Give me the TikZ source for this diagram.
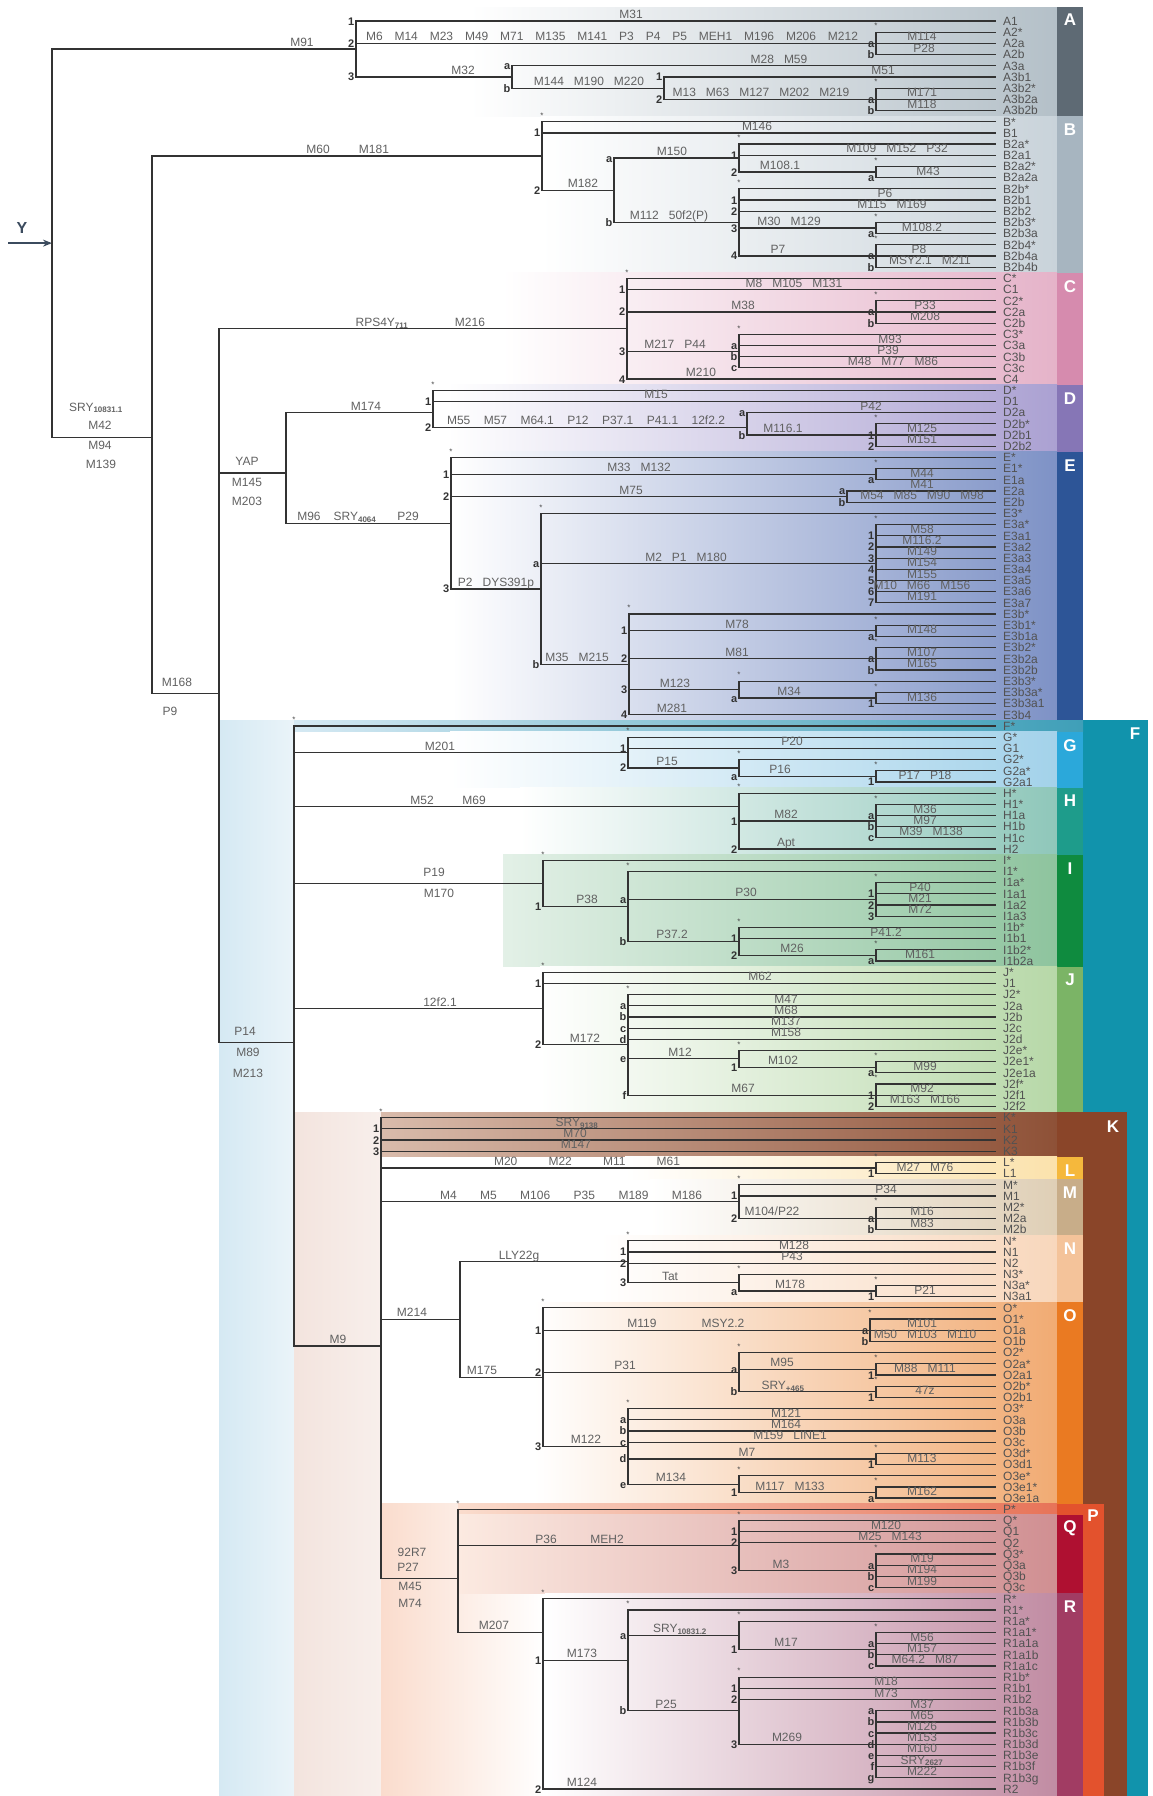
\documentclass[tikz,border=0pt]{standalone}
\usepackage{fontspec}
\setmainfont{Liberation Sans}[WordSpace=3]
\usetikzlibrary{arrows.meta}

\definecolor{acol}{HTML}{5E6A74}\definecolor{aband}{HTML}{B4C0C8}
\definecolor{bcol}{HTML}{A7B5C0}\definecolor{bband}{HTML}{C9D3DA}
\definecolor{ccol}{HTML}{D68BAE}\definecolor{cband}{HTML}{E5B3C9}
\definecolor{dcol}{HTML}{8676B6}\definecolor{dband}{HTML}{ABA1D2}
\definecolor{ecol}{HTML}{2D5597}\definecolor{eband}{HTML}{7E92C6}
\definecolor{fcol}{HTML}{1193AC}\definecolor{fband}{HTML}{3F9FB8}
\definecolor{gcol}{HTML}{2BA8DA}\definecolor{gband}{HTML}{A3D2EA}
\definecolor{hcol}{HTML}{1E9C8B}\definecolor{hband}{HTML}{8FC7BA}
\definecolor{icol}{HTML}{0F8B3F}\definecolor{iband}{HTML}{8EC49E}
\definecolor{jcol}{HTML}{7BB466}\definecolor{jband}{HTML}{B7D8A8}
\definecolor{kcol}{HTML}{8A4529}\definecolor{kband}{HTML}{8E5137}\definecolor{kleft}{HTML}{D9BBAB}
\definecolor{lcol}{HTML}{F5B83C}\definecolor{lband}{HTML}{FBE2AC}
\definecolor{mcol}{HTML}{C8AD89}\definecolor{mband}{HTML}{DFCFB6}
\definecolor{ncol}{HTML}{F4C39A}\definecolor{nband}{HTML}{F8D7BC}
\definecolor{ocol}{HTML}{EA7A22}\definecolor{oband}{HTML}{F1AB73}
\definecolor{pcol}{HTML}{E3522D}\definecolor{pband}{HTML}{E77358}
\definecolor{qcol}{HTML}{AF1031}\definecolor{qband}{HTML}{D08F92}
\definecolor{rcol}{HTML}{A13C63}\definecolor{rband}{HTML}{C18CA3}
\definecolor{fstrip}{HTML}{D5E9F3}\definecolor{kstrip}{HTML}{F3E4DE}
\definecolor{pstrip}{HTML}{FADCCD}\definecolor{arrowcol}{HTML}{3B4B5E}

\newcounter{lab}
\newcommand\ry[1]{21+11.19*(#1)}
\newcommand\mutfont{\fontsize{12}{13}\selectfont}
\newcommand\leaffont{\fontsize{12}{13}\selectfont}
\newcommand\tagfont{\fontsize{11}{12}\selectfont\bfseries}
\newcommand\grpfont{\fontsize{17}{17}\selectfont\bfseries}
% leaf: end of a branch and its haplogroup name
\newcommand\leaf[3]{\coordinate (#1) at (996,{\ry{#2}});
  \node[leaf] (t#1) at (1003,{\ry{#2}}) {#3};}
\newcommand\fork[3]{\coordinate (#1) at (#2,{\ry{#3}});}
\newcommand\mut[3]{\stepcounter{lab}\node[mut] (mut\arabic{lab}) at (#1,{\ry{#2}}) {#3};}
\newcommand\mutc[4]{\stepcounter{lab}\node[mut,anchor=center,yshift=0pt] (mut\arabic{lab}) at (#1,{\ry{#2}+(#3)}) {#4};}
\newcommand\spread[4]{\stepcounter{lab}\node[mut] (mut\arabic{lab}) at (#1,{\ry{#2}}) {\makebox[#3pt][s]{#4}};}
\newcommand\tg[3]{\stepcounter{lab}\node[tag] (tag\arabic{lab}) at (#1,{\ry{#2}}) {#3};}
\newcommand\stx[2]{\stepcounter{lab}\node[starmark] (tag\arabic{lab}) at (#1,{\ry{#2}-6}) {*};}
\newcommand\band[4]{\shade[left color=white,right color=#1] (#2,{\ry{#3}-5.6}) rectangle (1057,{\ry{#4}+5.6});}
\newcommand\grpcol[4]{\fill[#1] (1057,{\ry{#2}-5.6}) rectangle (1083,{\ry{#3}+5.6});
  \node[grp] (g#4) at (1070,{\ry{#2}+8}) {#4};}

\begin{document}
\begin{tikzpicture}[
    x=1pt, y=-1pt,
    br/.style={draw=black!80, line width=1.2pt},
    mut/.style={anchor=base, yshift=2.5pt, inner sep=0pt, font=\mutfont, text=black!62},
    tag/.style={anchor=base east, xshift=-1.5pt, yshift=-4pt, inner sep=0pt, font=\tagfont, text=black!80},
    starmark/.style={inner sep=0pt, font=\fontsize{8}{8}\selectfont, text=black!70},
    leaf/.style={anchor=base west, yshift=-4.3pt, inner sep=0pt, font=\leaffont, text=black!68},
    grp/.style={inner sep=0pt, font=\grpfont, text=white}
]
\useasboundingbox (0,0) rectangle (1152,1796);
\fill[white] (0,0) rectangle (1152,1796);

% backgrounds
\shade[left color=fstrip,right color=fstrip!50] (219,{\ry{63}-5.6}) rectangle (294,1796);
\shade[left color=kstrip,right color=kstrip!60] (294,{\ry{98}-5.6}) rectangle (381,1796);
\shade[left color=pstrip,right color=white] (381,{\ry{133}-5.6}) rectangle (545,1796);
\shade[left color=white,right color=aband] (470,7) rectangle (1057,{\ry{8}+5.6});
\fill[acol] (1057,7) rectangle (1083,{\ry{8}+5.6});
\node[grp] (gA) at (1070,20) {A};
\band{bband}{541}{9}{22}\grpcol{bcol}{9}{22}{B}
\band{cband}{502}{23}{32}\grpcol{ccol}{23}{32}{C}
\band{dband}{447}{33}{38}\grpcol{dcol}{33}{38}{D}
\band{eband}{452}{39}{62}\grpcol{ecol}{39}{62}{E}
\fill[fcol] (1083,{\ry{63}-5.6}) rectangle (1148,1796);
\shade[left color=fstrip,right color=fband] (294,{\ry{63}-5.6}) rectangle (1083,{\ry{63}+5.6});
\node[grp] (gF) at (1135,{\ry{63}+8}) {F};
\band{gband}{450}{64}{68}\grpcol{gcol}{64}{68}{G}
\band{hband}{520}{69}{74}\grpcol{hcol}{69}{74}{H}
\shade[left color=iband!25,right color=iband] (503,{\ry{75}-5.6}) rectangle (1057,{\ry{84}+5.6});
\grpcol{icol}{75}{84}{I}
\band{jband}{540}{85}{97}\grpcol{jcol}{85}{97}{J}
\shade[left color=kleft,right color=kband] (381,{\ry{98}-5.6}) rectangle (1057,{\ry{101}+5.6});
\fill[kcol] (1057,{\ry{98}-5.6}) rectangle (1127,{\ry{101}+5.6});
\fill[kcol] (1083,{\ry{101}}) rectangle (1127,1796);
\node[grp] (gK) at (1113,{\ry{98}+9}) {K};
\band{lband}{625}{102}{103}\grpcol{lcol}{102}{103}{L}
\band{mband}{650}{104}{108}\grpcol{mcol}{104}{108}{M}
\band{nband}{600}{109}{114}\grpcol{ncol}{109}{114}{N}
\band{oband}{534}{115}{132}\grpcol{ocol}{115}{132}{O}
\shade[left color=pstrip,right color=pband] (458,{\ry{133}-5.6}) rectangle (1057,{\ry{133}+5.6});
\fill[pcol] (1057,{\ry{133}-5.6}) rectangle (1104,{\ry{133}+5.6});
\fill[pcol] (1083,{\ry{133}}) rectangle (1104,1796);
\node[grp] (gP) at (1093,{\ry{133}+6}) {P};
\shade[left color=pstrip!60,right color=qband] (458,{\ry{134}-5.6}) rectangle (1057,{\ry{140}+5.6});
\grpcol{qcol}{134}{140}{Q}
\shade[left color=white,right color=rband] (545,{\ry{141}-5.6}) rectangle (1057,1796);
\fill[rcol] (1057,{\ry{141}-5.6}) rectangle (1083,1796);
\node[grp] (gR) at (1070,{\ry{141}+8}) {R};

% leaves
\leaf{A1}{0}{A1}\leaf{A2s}{1}{A2*}\leaf{A2a}{2}{A2a}\leaf{A2b}{3}{A2b}
\leaf{A3a}{4}{A3a}\leaf{A3b1}{5}{A3b1}\leaf{A3b2s}{6}{A3b2*}\leaf{A3b2a}{7}{A3b2a}\leaf{A3b2b}{8}{A3b2b}
\leaf{Bs}{9}{B*}\leaf{B1}{10}{B1}\leaf{B2as}{11}{B2a*}\leaf{B2a1}{12}{B2a1}
\leaf{B2a2s}{13}{B2a2*}\leaf{B2a2a}{14}{B2a2a}\leaf{B2bs}{15}{B2b*}\leaf{B2b1}{16}{B2b1}
\leaf{B2b2}{17}{B2b2}\leaf{B2b3s}{18}{B2b3*}\leaf{B2b3a}{19}{B2b3a}\leaf{B2b4s}{20}{B2b4*}
\leaf{B2b4a}{21}{B2b4a}\leaf{B2b4b}{22}{B2b4b}
\leaf{Cs}{23}{C*}\leaf{C1}{24}{C1}\leaf{C2s}{25}{C2*}\leaf{C2a}{26}{C2a}\leaf{C2b}{27}{C2b}
\leaf{C3s}{28}{C3*}\leaf{C3a}{29}{C3a}\leaf{C3b}{30}{C3b}\leaf{C3c}{31}{C3c}\leaf{C4}{32}{C4}
\leaf{Ds}{33}{D*}\leaf{D1}{34}{D1}\leaf{D2a}{35}{D2a}\leaf{D2bs}{36}{D2b*}\leaf{D2b1}{37}{D2b1}\leaf{D2b2}{38}{D2b2}
\leaf{Es}{39}{E*}\leaf{E1s}{40}{E1*}\leaf{E1a}{41}{E1a}\leaf{E2a}{42}{E2a}\leaf{E2b}{43}{E2b}
\leaf{E3s}{44}{E3*}\leaf{E3as}{45}{E3a*}\leaf{E3a1}{46}{E3a1}\leaf{E3a2}{47}{E3a2}\leaf{E3a3}{48}{E3a3}
\leaf{E3a4}{49}{E3a4}\leaf{E3a5}{50}{E3a5}\leaf{E3a6}{51}{E3a6}\leaf{E3a7}{52}{E3a7}
\leaf{E3bs}{53}{E3b*}\leaf{E3b1s}{54}{E3b1*}\leaf{E3b1a}{55}{E3b1a}\leaf{E3b2s}{56}{E3b2*}
\leaf{E3b2a}{57}{E3b2a}\leaf{E3b2b}{58}{E3b2b}\leaf{E3b3s}{59}{E3b3*}\leaf{E3b3as}{60}{E3b3a*}
\leaf{E3b3a1}{61}{E3b3a1}\leaf{E3b4}{62}{E3b4}
\leaf{Fs}{63}{F*}\leaf{Gs}{64}{G*}\leaf{G1}{65}{G1}\leaf{G2s}{66}{G2*}\leaf{G2as}{67}{G2a*}\leaf{G2a1}{68}{G2a1}
\leaf{Hs}{69}{H*}\leaf{H1s}{70}{H1*}\leaf{H1a}{71}{H1a}\leaf{H1b}{72}{H1b}\leaf{H1c}{73}{H1c}\leaf{H2}{74}{H2}
\leaf{Is}{75}{I*}\leaf{I1s}{76}{I1*}\leaf{I1as}{77}{I1a*}\leaf{I1a1}{78}{I1a1}\leaf{I1a2}{79}{I1a2}
\leaf{I1a3}{80}{I1a3}\leaf{I1bs}{81}{I1b*}\leaf{I1b1}{82}{I1b1}\leaf{I1b2s}{83}{I1b2*}\leaf{I1b2a}{84}{I1b2a}
\leaf{Js}{85}{J*}\leaf{J1}{86}{J1}\leaf{J2s}{87}{J2*}\leaf{J2a}{88}{J2a}\leaf{J2b}{89}{J2b}\leaf{J2c}{90}{J2c}
\leaf{J2d}{91}{J2d}\leaf{J2es}{92}{J2e*}\leaf{J2e1s}{93}{J2e1*}\leaf{J2e1a}{94}{J2e1a}
\leaf{J2fs}{95}{J2f*}\leaf{J2f1}{96}{J2f1}\leaf{J2f2}{97}{J2f2}
\leaf{Ks}{98}{K*}\leaf{K1}{99}{K1}\leaf{K2}{100}{K2}\leaf{K3}{101}{K3}
\leaf{Ls}{102}{L*}\leaf{L1}{103}{L1}
\leaf{Ms}{104}{M*}\leaf{M1}{105}{M1}\leaf{M2s}{106}{M2*}\leaf{M2a}{107}{M2a}\leaf{M2b}{108}{M2b}
\leaf{Ns}{109}{N*}\leaf{N1}{110}{N1}\leaf{N2}{111}{N2}\leaf{N3s}{112}{N3*}\leaf{N3as}{113}{N3a*}\leaf{N3a1}{114}{N3a1}
\leaf{Os}{115}{O*}\leaf{O1s}{116}{O1*}\leaf{O1a}{117}{O1a}\leaf{O1b}{118}{O1b}\leaf{O2s}{119}{O2*}
\leaf{O2as}{120}{O2a*}\leaf{O2a1}{121}{O2a1}\leaf{O2bs}{122}{O2b*}\leaf{O2b1}{123}{O2b1}
\leaf{O3s}{124}{O3*}\leaf{O3a}{125}{O3a}\leaf{O3b}{126}{O3b}\leaf{O3c}{127}{O3c}\leaf{O3ds}{128}{O3d*}
\leaf{O3d1}{129}{O3d1}\leaf{O3es}{130}{O3e*}\leaf{O3e1s}{131}{O3e1*}\leaf{O3e1a}{132}{O3e1a}
\leaf{Ps}{133}{P*}\leaf{Qs}{134}{Q*}\leaf{Q1}{135}{Q1}\leaf{Q2}{136}{Q2}\leaf{Q3s}{137}{Q3*}
\leaf{Q3a}{138}{Q3a}\leaf{Q3b}{139}{Q3b}\leaf{Q3c}{140}{Q3c}
\leaf{Rs}{141}{R*}\leaf{R1s}{142}{R1*}\leaf{R1as}{143}{R1a*}\leaf{R1a1s}{144}{R1a1*}\leaf{R1a1a}{145}{R1a1a}
\leaf{R1a1b}{146}{R1a1b}\leaf{R1a1c}{147}{R1a1c}\leaf{R1bs}{148}{R1b*}\leaf{R1b1}{149}{R1b1}\leaf{R1b2}{150}{R1b2}
\leaf{R1b3a}{151}{R1b3a}\leaf{R1b3b}{152}{R1b3b}\leaf{R1b3c}{153}{R1b3c}\leaf{R1b3d}{154}{R1b3d}
\leaf{R1b3e}{155}{R1b3e}\leaf{R1b3f}{156}{R1b3f}\leaf{R1b3g}{157}{R1b3g}\leaf{R2}{158}{R2}

% forks
\fork{nY}{52}{19.85}
\fork{nA}{356}{2.5}\fork{nA2}{876}{2}\fork{nA3}{512}{5}\fork{nA3b}{664}{6}\fork{nA3b2}{876}{7}
\fork{nBT}{152}{37.2}
\fork{nB}{542}{12.0625}\fork{nB2}{614}{15.125}\fork{nB2a}{739}{12.25}\fork{nB2a2}{876}{13.5}
\fork{nB2b}{739}{18}\fork{nB2b3}{876}{18.5}\fork{nB2b4}{876}{21}
\fork{nCT}{219}{60.1}
\fork{nC}{627}{27.5}\fork{nC2}{876}{26}\fork{nC3}{739}{29.5}
\fork{nDE}{286}{40.4}
\fork{nD}{433}{35}\fork{nD2}{747}{36.3}\fork{nD2b}{876}{37}
\fork{nE}{451}{44.875}\fork{nE1}{876}{40.5}\fork{nE2}{847}{42.5}\fork{nE3}{541}{50.75}
\fork{nE3a}{876}{48.5}\fork{nE3b}{629}{57.5}\fork{nE3b1}{876}{54.5}\fork{nE3b2}{876}{57}
\fork{nE3b3}{739}{59.75}\fork{nE3b3a}{876}{60.5}
\fork{nF}{294}{91.3}
\fork{nG}{628}{65.375}\fork{nG2}{739}{66.75}\fork{nG2a}{876}{67.5}
\fork{nH}{739}{70.2}\fork{nH1}{876}{71.5}
\fork{nI}{543}{77.06}\fork{nI1}{628}{79.125}\fork{nI1a}{876}{78.5}\fork{nI1b}{739}{82.25}\fork{nI1b2}{876}{83.5}
\fork{nJ}{543}{88.25}\fork{nJ2}{628}{91.5}\fork{nJ2e}{739}{92.75}\fork{nJ2e1}{876}{93.5}\fork{nJ2f}{876}{96}
\fork{nK}{381}{118.4}\fork{nL}{876}{102.5}\fork{nM}{739}{105.5}\fork{nM2}{876}{107}
\fork{nNO}{460}{116.03}
\fork{nN}{628}{110.875}\fork{nN3}{739}{112.75}\fork{nN3a}{876}{113.5}
\fork{nO}{543}{121.19}\fork{nO1}{870}{117}\fork{nO2}{739}{120.75}\fork{nO2a}{876}{120.5}\fork{nO2b}{876}{122.5}
\fork{nO3}{628}{127.375}\fork{nO3d}{876}{128.5}\fork{nO3e}{739}{130.75}\fork{nO3e1}{876}{131.5}
\fork{nP}{458}{139.2}\fork{nQ}{739}{136.25}\fork{nQ3}{876}{138.5}
\fork{nR}{543}{144}\fork{nR1}{628}{146.5}\fork{nR1a}{739}{144.25}\fork{nR1a1}{876}{145.5}
\fork{nR1b}{739}{151}\fork{nR1b3}{876}{154}

% root arrow
\coordinate (ystart) at (8,{\ry{19.85}});
\draw[-{Stealth[length=9pt,width=7pt]}, line width=1.4pt, arrowcol] (ystart) -- (nY);
\node[font=\fontsize{16}{16}\selectfont\bfseries, text=arrowcol] (ylab) at (22,{\ry{19.85}-15}) {Y};

% branches
\draw[br] (nY) |- (nA) (nY) |- (nBT);
\draw[br] (nA) |- (A1) (nA) |- (nA2) (nA) |- (nA3);
\draw[br] (nA2) |- (A2s) (nA2) |- (A2a) (nA2) |- (A2b);
\draw[br] (nA3) |- (A3a) (nA3) |- (nA3b);
\draw[br] (nA3b) |- (A3b1) (nA3b) |- (nA3b2);
\draw[br] (nA3b2) |- (A3b2s) (nA3b2) |- (A3b2a) (nA3b2) |- (A3b2b);
\draw[br] (nBT) |- (nB) (nBT) |- (nCT);
\draw[br] (nB) |- (Bs) (nB) |- (B1) (nB) |- (nB2);
\draw[br] (nB2) |- (nB2a) (nB2) |- (nB2b);
\draw[br] (nB2a) |- (B2as) (nB2a) |- (B2a1) (nB2a) |- (nB2a2);
\draw[br] (nB2a2) |- (B2a2s) (nB2a2) |- (B2a2a);
\draw[br] (nB2b) |- (B2bs) (nB2b) |- (B2b1) (nB2b) |- (B2b2) (nB2b) |- (nB2b3) (nB2b) |- (nB2b4);
\draw[br] (nB2b3) |- (B2b3s) (nB2b3) |- (B2b3a);
\draw[br] (nB2b4) |- (B2b4s) (nB2b4) |- (B2b4a) (nB2b4) |- (B2b4b);
\draw[br] (nCT) |- (nC) (nCT) |- (nDE) (nCT) |- (nF);
\draw[br] (nC) |- (Cs) (nC) |- (C1) (nC) |- (nC2) (nC) |- (nC3) (nC) |- (C4);
\draw[br] (nC2) |- (C2s) (nC2) |- (C2a) (nC2) |- (C2b);
\draw[br] (nC3) |- (C3s) (nC3) |- (C3a) (nC3) |- (C3b) (nC3) |- (C3c);
\draw[br] (nDE) |- (nD) (nDE) |- (nE);
\draw[br] (nD) |- (Ds) (nD) |- (D1) (nD) |- (nD2);
\draw[br] (nD2) |- (D2a) (nD2) |- (nD2b);
\draw[br] (nD2b) |- (D2bs) (nD2b) |- (D2b1) (nD2b) |- (D2b2);
\draw[br] (nE) |- (Es) (nE) |- (nE1) (nE) |- (nE2) (nE) |- (nE3);
\draw[br] (nE1) |- (E1s) (nE1) |- (E1a);
\draw[br] (nE2) |- (E2a) (nE2) |- (E2b);
\draw[br] (nE3) |- (E3s) (nE3) |- (nE3a) (nE3) |- (nE3b);
\draw[br] (nE3a) |- (E3as) (nE3a) |- (E3a1) (nE3a) |- (E3a2) (nE3a) |- (E3a3) (nE3a) |- (E3a4)
  (nE3a) |- (E3a5) (nE3a) |- (E3a6) (nE3a) |- (E3a7);
\draw[br] (nE3b) |- (E3bs) (nE3b) |- (nE3b1) (nE3b) |- (nE3b2) (nE3b) |- (nE3b3) (nE3b) |- (E3b4);
\draw[br] (nE3b1) |- (E3b1s) (nE3b1) |- (E3b1a);
\draw[br] (nE3b2) |- (E3b2s) (nE3b2) |- (E3b2a) (nE3b2) |- (E3b2b);
\draw[br] (nE3b3) |- (E3b3s) (nE3b3) |- (nE3b3a);
\draw[br] (nE3b3a) |- (E3b3as) (nE3b3a) |- (E3b3a1);
\draw[br] (nF) |- (Fs) (nF) |- (nG) (nF) |- (nH) (nF) |- (nI) (nF) |- (nJ) (nF) |- (nK);
\draw[br] (nG) |- (Gs) (nG) |- (G1) (nG) |- (nG2);
\draw[br] (nG2) |- (G2s) (nG2) |- (nG2a);
\draw[br] (nG2a) |- (G2as) (nG2a) |- (G2a1);
\draw[br] (nH) |- (Hs) (nH) |- (nH1) (nH) |- (H2);
\draw[br] (nH1) |- (H1s) (nH1) |- (H1a) (nH1) |- (H1b) (nH1) |- (H1c);
\draw[br] (nI) |- (Is) (nI) |- (nI1);
\draw[br] (nI1) |- (I1s) (nI1) |- (nI1a) (nI1) |- (nI1b);
\draw[br] (nI1a) |- (I1as) (nI1a) |- (I1a1) (nI1a) |- (I1a2) (nI1a) |- (I1a3);
\draw[br] (nI1b) |- (I1bs) (nI1b) |- (I1b1) (nI1b) |- (nI1b2);
\draw[br] (nI1b2) |- (I1b2s) (nI1b2) |- (I1b2a);
\draw[br] (nJ) |- (Js) (nJ) |- (J1) (nJ) |- (nJ2);
\draw[br] (nJ2) |- (J2s) (nJ2) |- (J2a) (nJ2) |- (J2b) (nJ2) |- (J2c) (nJ2) |- (J2d)
  (nJ2) |- (nJ2e) (nJ2) |- (nJ2f);
\draw[br] (nJ2e) |- (J2es) (nJ2e) |- (nJ2e1);
\draw[br] (nJ2e1) |- (J2e1s) (nJ2e1) |- (J2e1a);
\draw[br] (nJ2f) |- (J2fs) (nJ2f) |- (J2f1) (nJ2f) |- (J2f2);
\draw[br] (nK) |- (Ks) (nK) |- (K1) (nK) |- (K2) (nK) |- (K3) (nK) |- (nL) (nK) |- (nM)
  (nK) |- (nNO) (nK) |- (nP);
\draw[br] (nL) |- (Ls) (nL) |- (L1);
\draw[br] (nM) |- (Ms) (nM) |- (M1) (nM) |- (nM2);
\draw[br] (nM2) |- (M2s) (nM2) |- (M2a) (nM2) |- (M2b);
\draw[br] (nNO) |- (nN) (nNO) |- (nO);
\draw[br] (nN) |- (Ns) (nN) |- (N1) (nN) |- (N2) (nN) |- (nN3);
\draw[br] (nN3) |- (N3s) (nN3) |- (nN3a);
\draw[br] (nN3a) |- (N3as) (nN3a) |- (N3a1);
\draw[br] (nO) |- (Os) (nO) |- (nO1) (nO) |- (nO2) (nO) |- (nO3);
\draw[br] (nO1) |- (O1s) (nO1) |- (O1a) (nO1) |- (O1b);
\draw[br] (nO2) |- (O2s) (nO2) |- (nO2a) (nO2) |- (nO2b);
\draw[br] (nO2a) |- (O2as) (nO2a) |- (O2a1);
\draw[br] (nO2b) |- (O2bs) (nO2b) |- (O2b1);
\draw[br] (nO3) |- (O3s) (nO3) |- (O3a) (nO3) |- (O3b) (nO3) |- (O3c) (nO3) |- (nO3d) (nO3) |- (nO3e);
\draw[br] (nO3d) |- (O3ds) (nO3d) |- (O3d1);
\draw[br] (nO3e) |- (O3es) (nO3e) |- (nO3e1);
\draw[br] (nO3e1) |- (O3e1s) (nO3e1) |- (O3e1a);
\draw[br] (nP) |- (Ps) (nP) |- (nQ) (nP) |- (nR);
\draw[br] (nQ) |- (Qs) (nQ) |- (Q1) (nQ) |- (Q2) (nQ) |- (nQ3);
\draw[br] (nQ3) |- (Q3s) (nQ3) |- (Q3a) (nQ3) |- (Q3b) (nQ3) |- (Q3c);
\draw[br] (nR) |- (Rs) (nR) |- (nR1) (nR) |- (R2);
\draw[br] (nR1) |- (R1s) (nR1) |- (nR1a) (nR1) |- (nR1b);
\draw[br] (nR1a) |- (R1as) (nR1a) |- (nR1a1);
\draw[br] (nR1a1) |- (R1a1s) (nR1a1) |- (R1a1a) (nR1a1) |- (R1a1b) (nR1a1) |- (R1a1c);
\draw[br] (nR1b) |- (R1bs) (nR1b) |- (R1b1) (nR1b) |- (R1b2) (nR1b) |- (nR1b3);
\draw[br] (nR1b3) |- (R1b3a) (nR1b3) |- (R1b3b) (nR1b3) |- (R1b3c) (nR1b3) |- (R1b3d)
  (nR1b3) |- (R1b3e) (nR1b3) |- (R1b3f) (nR1b3) |- (R1b3g);

% mutations
\mut{302}{2.5}{M91}
\mutc{96}{37.2}{-27}{SRY\textsubscript{\bfseries 10831.1}}
\mutc{100}{37.2}{-9}{M42}\mutc{100}{37.2}{11}{M94}\mutc{101}{37.2}{30}{M139}
\mut{631}{0}{M31}
\spread{612}{2}{492}{M6 M14 M23 M49 M71 M135 M141 P3 P4 P5 MEH1 M196 M206 M212}
\mut{922}{2}{M114}\mut{924}{3}{P28}\mut{463}{5}{M32}\mut{779}{4}{M28 M59}
\mut{589}{6}{M144 M190 M220}\mut{883}{5}{M51}\mut{761}{7}{M13 M63 M127 M202 M219}
\mut{922}{7}{M171}\mut{922}{8}{M118}
\mut{318}{12.0625}{M60}\mut{374}{12.0625}{M181}
\mut{757}{10}{M146}\mut{583}{15.125}{M182}\mut{672}{12.25}{M150}\mut{897}{12}{M109 M152 P32}
\mut{780}{13.5}{M108.1}\mut{928}{14}{M43}\mut{669}{18}{M112 50f2(P)}\mut{885}{16}{P6}
\mut{892}{17}{M115 M169}\mut{789}{18.5}{M30 M129}\mut{922}{19}{M108.2}\mut{778}{21}{P7}
\mut{919}{21}{P8}\mut{930}{22}{MSY2.1 M211}
\mutc{177}{60.1}{-9}{M168}\mutc{170}{60.1}{20}{P9}
\mut{382}{27.5}{RPS4Y\textsubscript{\bfseries 711}}\mut{470}{27.5}{M216}
\mut{794}{24}{M8 M105 M131}\mut{743}{26}{M38}\mut{925}{26}{P33}\mut{925}{27}{M208}
\mut{675}{29.5}{M217 P44}\mut{890}{29}{M93}\mut{888}{30}{P39}\mut{893}{31}{M48 M77 M86}\mut{701}{32}{M210}
\mutc{247}{40.4}{-9}{YAP}\mutc{247}{40.4}{12}{M145}\mutc{247}{40.4}{31}{M203}
\mut{366}{35}{M174}\mut{656}{34}{M15}
\spread{586}{36.3}{278}{M55 M57 M64.1 P12 P37.1 P41.1 12f2.2}
\mut{871}{35}{P42}\mut{783}{37}{M116.1}\mut{922}{37}{M125}\mut{922}{38}{M151}
\mut{309}{44.875}{M96}\mut{355}{44.875}{SRY\textsubscript{\bfseries 4064}}\mut{408}{44.875}{P29}
\mut{639}{40.5}{M33 M132}\mut{922}{41}{M44}\mut{631}{42.5}{M75}\mut{922}{42}{M41}
\mut{922}{43}{M54 M85 M90 M98}\mut{496}{50.75}{P2 DYS391p}\mut{686}{48.5}{M2 P1 M180}
\mut{922}{46}{M58}\mut{922}{47}{M116.2}\mut{922}{48}{M149}\mut{922}{49}{M154}\mut{922}{50}{M155}
\mut{922}{51}{M10 M66 M156}\mut{922}{52}{M191}
\mut{577}{57.5}{M35 M215}\mut{737}{54.5}{M78}\mut{922}{55}{M148}\mut{737}{57}{M81}
\mut{922}{57}{M107}\mut{922}{58}{M165}\mut{675}{59.75}{M123}\mut{789}{60.5}{M34}
\mut{922}{61}{M136}\mut{672}{62}{M281}
\mutc{245}{91.3}{-9}{P14}\mutc{248}{91.3}{12}{M89}\mutc{248}{91.3}{33}{M213}
\mut{440}{65.375}{M201}\mut{792}{65}{P20}\mut{667}{66.75}{P15}\mut{780}{67.5}{P16}\mut{925}{68}{P17 P18}
\mut{422}{70.2}{M52}\mut{474}{70.2}{M69}\mut{786}{71.5}{M82}\mut{925}{71}{M36}\mut{925}{72}{M97}
\mut{931}{73}{M39 M138}\mut{786}{74}{Apt}
\mutc{434}{77.06}{-8}{P19}\mutc{439}{77.06}{13}{M170}\mut{587}{79.125}{P38}\mut{746}{78.5}{P30}
\mut{920}{78}{P40}\mut{920}{79}{M21}\mut{920}{80}{M72}\mut{672}{82.25}{P37.2}\mut{886}{82}{P41.2}
\mut{792}{83.5}{M26}\mut{920}{84}{M161}
\mut{440}{88.25}{12f2.1}\mut{760}{86}{M62}\mut{585}{91.5}{M172}\mut{786}{88}{M47}\mut{786}{89}{M68}
\mut{786}{90}{M137}\mut{786}{91}{M158}\mut{680}{92.75}{M12}\mut{783}{93.5}{M102}\mut{925}{94}{M99}
\mut{743}{96}{M67}\mut{922}{96}{M92}\mut{925}{97}{M163 M166}
\mut{338}{118.4}{M9}\mut{577}{99}{SRY\textsubscript{\bfseries 9138}}\mut{575}{100}{M70}\mut{576}{101}{M147}
\spread{587}{102.5}{186}{M20 M22 M11 M61}\mut{925}{103}{M27 M76}
\spread{571}{105.5}{262}{M4 M5 M106 P35 M189 M186}
\mut{886}{105}{P34}\mut{772}{107}{M104/P22}\mut{922}{107}{M16}\mut{922}{108}{M83}
\mut{412}{116.03}{M214}
\mut{519}{110.875}{LLY22g}\mut{794}{110}{M128}\mut{792}{111}{P43}\mut{670}{112.75}{Tat}
\mut{790}{113.5}{M178}\mut{925}{114}{P21}
\mut{482}{121.19}{M175}\mut{642}{117}{M119}\mut{723}{117}{MSY2.2}\mut{922}{117}{M101}
\mut{925}{118}{M50 M103 M110}\mut{625}{120.75}{P31}\mut{782}{120.5}{M95}\mut{925}{121}{M88 M111}
\mut{783}{122.5}{SRY\textsubscript{\bfseries +465}}\mut{925}{123}{47z}\mut{586}{127.375}{M122}
\mut{786}{125}{M121}\mut{786}{126}{M164}\mut{790}{127}{M159 LINE1}\mut{747}{128.5}{M7}
\mut{922}{129}{M113}\mut{671}{130.75}{M134}\mut{790}{131.5}{M117 M133}\mut{922}{132}{M162}
\mutc{412}{139.2}{-24}{92R7}\mutc{408}{139.2}{-9}{P27}\mutc{410}{139.2}{10}{M45}\mutc{410}{139.2}{27}{M74}
\mut{546}{136.25}{P36}\mut{607}{136.25}{MEH2}\mut{886}{135}{M120}\mut{890}{136}{M25 M143}
\mut{781}{138.5}{M3}\mut{922}{138}{M19}\mut{922}{139}{M194}\mut{922}{140}{M199}
\mut{494}{144}{M207}\mut{582}{146.5}{M173}\mut{680}{144.25}{SRY\textsubscript{\bfseries 10831.2}}
\mut{786}{145.5}{M17}\mut{922}{145}{M56}\mut{922}{146}{M157}\mut{925}{147}{M64.2 M87}
\mut{666}{151}{P25}\mut{886}{149}{M18}\mut{886}{150}{M73}\mut{787}{154}{M269}
\mut{922}{151}{M37}\mut{922}{152}{M65}\mut{922}{153}{M126}\mut{922}{154}{M153}\mut{922}{155}{M160}
\mut{922}{156}{SRY\textsubscript{\bfseries 2627}}\mut{922}{157}{M222}\mut{582}{158}{M124}

% branch numbers and letters
\tg{356}{0}{1}\tg{356}{2}{2}\tg{356}{5}{3}
\stx{876}{1}\tg{876}{2}{a}\tg{876}{3}{b}
\tg{512}{4}{a}\tg{512}{6}{b}\tg{664}{5}{1}\tg{664}{7}{2}
\stx{876}{6}\tg{876}{7}{a}\tg{876}{8}{b}
\stx{542}{9}\tg{542}{10}{1}\tg{542}{15.125}{2}\tg{614}{12.25}{a}\tg{614}{18}{b}
\stx{739}{11}\tg{739}{12}{1}\tg{739}{13.5}{2}\stx{876}{13}\tg{876}{14}{a}
\stx{739}{15}\tg{739}{16}{1}\tg{739}{17}{2}\tg{739}{18.5}{3}\tg{739}{21}{4}
\stx{876}{18}\tg{876}{19}{a}\stx{876}{20}\tg{876}{21}{a}\tg{876}{22}{b}
\stx{627}{23}\tg{627}{24}{1}\tg{627}{26}{2}\tg{627}{29.5}{3}\tg{627}{32}{4}
\stx{876}{25}\tg{876}{26}{a}\tg{876}{27}{b}
\stx{739}{28}\tg{739}{29}{a}\tg{739}{30}{b}\tg{739}{31}{c}
\stx{433}{33}\tg{433}{34}{1}\tg{433}{36.3}{2}\tg{747}{35}{a}\tg{747}{37}{b}
\stx{876}{36}\tg{876}{37}{1}\tg{876}{38}{2}
\stx{451}{39}\tg{451}{40.5}{1}\tg{451}{42.5}{2}\tg{451}{50.75}{3}
\stx{876}{40}\tg{876}{41}{a}\tg{847}{42}{a}\tg{847}{43}{b}
\stx{541}{44}\tg{541}{48.5}{a}\tg{541}{57.5}{b}
\stx{876}{45}\tg{876}{46}{1}\tg{876}{47}{2}\tg{876}{48}{3}\tg{876}{49}{4}\tg{876}{50}{5}
\tg{876}{51}{6}\tg{876}{52}{7}
\stx{629}{53}\tg{629}{54.5}{1}\tg{629}{57}{2}\tg{629}{59.75}{3}\tg{629}{62}{4}
\stx{876}{54}\tg{876}{55}{a}\stx{876}{56}\tg{876}{57}{a}\tg{876}{58}{b}
\stx{739}{59}\tg{739}{60.5}{a}\stx{876}{60}\tg{876}{61}{1}
\stx{294}{63}
\stx{628}{64}\tg{628}{65}{1}\tg{628}{66.75}{2}\stx{739}{66}\tg{739}{67.5}{a}
\stx{876}{67}\tg{876}{68}{1}
\stx{739}{69}\tg{739}{71.5}{1}\tg{739}{74}{2}
\stx{876}{70}\tg{876}{71}{a}\tg{876}{72}{b}\tg{876}{73}{c}
\stx{543}{75}\tg{543}{79.125}{1}\stx{628}{76}\tg{628}{78.5}{a}\tg{628}{82.25}{b}
\stx{876}{77}\tg{876}{78}{1}\tg{876}{79}{2}\tg{876}{80}{3}
\stx{739}{81}\tg{739}{82}{1}\tg{739}{83.5}{2}\stx{876}{83}\tg{876}{84}{a}
\stx{543}{85}\tg{543}{86}{1}\tg{543}{91.5}{2}
\stx{628}{87}\tg{628}{88}{a}\tg{628}{89}{b}\tg{628}{90}{c}\tg{628}{91}{d}\tg{628}{92.75}{e}\tg{628}{96}{f}
\stx{739}{92}\tg{739}{93.5}{1}\stx{876}{93}\tg{876}{94}{a}
\stx{876}{95}\tg{876}{96}{1}\tg{876}{97}{2}
\stx{381}{98}\tg{381}{99}{1}\tg{381}{100}{2}\tg{381}{101}{3}
\stx{876}{102}\tg{876}{103}{1}
\stx{739}{104}\tg{739}{105}{1}\tg{739}{107}{2}\stx{876}{106}\tg{876}{107}{a}\tg{876}{108}{b}
\stx{628}{109}\tg{628}{110}{1}\tg{628}{111}{2}\tg{628}{112.75}{3}
\stx{739}{112}\tg{739}{113.5}{a}\stx{876}{113}\tg{876}{114}{1}
\stx{543}{115}\tg{543}{117}{1}\tg{543}{120.75}{2}\tg{543}{127.375}{3}
\stx{870}{116}\tg{870}{117}{a}\tg{870}{118}{b}
\stx{739}{119}\tg{739}{120.5}{a}\tg{739}{122.5}{b}
\stx{876}{120}\tg{876}{121}{1}\stx{876}{122}\tg{876}{123}{1}
\stx{628}{124}\tg{628}{125}{a}\tg{628}{126}{b}\tg{628}{127}{c}\tg{628}{128.5}{d}\tg{628}{130.75}{e}
\stx{876}{128}\tg{876}{129}{1}\stx{739}{130}\tg{739}{131.5}{1}\stx{876}{131}\tg{876}{132}{a}
\stx{458}{133}
\stx{739}{134}\tg{739}{135}{1}\tg{739}{136}{2}\tg{739}{138.5}{3}
\stx{876}{137}\tg{876}{138}{a}\tg{876}{139}{b}\tg{876}{140}{c}
\stx{543}{141}\tg{543}{146.5}{1}\tg{543}{158}{2}
\stx{628}{142}\tg{628}{144.25}{a}\tg{628}{151}{b}
\stx{739}{143}\tg{739}{145.5}{1}
\stx{876}{144}\tg{876}{145}{a}\tg{876}{146}{b}\tg{876}{147}{c}
\stx{739}{148}\tg{739}{149}{1}\tg{739}{150}{2}\tg{739}{154}{3}
\tg{876}{151}{a}\tg{876}{152}{b}\tg{876}{153}{c}\tg{876}{154}{d}\tg{876}{155}{e}\tg{876}{156}{f}\tg{876}{157}{g}
\end{tikzpicture}
\end{document}
